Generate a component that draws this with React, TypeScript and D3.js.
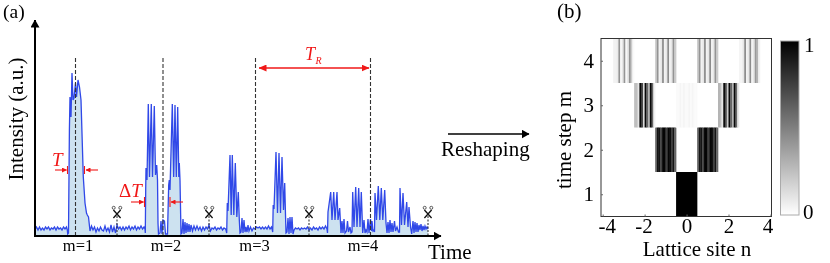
import React, { useEffect, useRef } from "react";
import * as d3 from "d3";

// waveform, [time, intensity] in a.u.
const quiet1 = [[0,6],[1.5,8],[3,5],[4.5,8],[6,5],[7.5,7],[9,5],[10.5,8],[12,6],[13.5,8],[15,5],[16.5,7],[18,6],[19.5,8],[21,5],[22.5,8],[24,6],[25.5,7],[27,5],[28.5,8],[30,6],[31.5,8]];
const pulse1 = [[32.3,5],[32.7,1],[33.5,2],[34.4,105],[35,138],[36,118],[37,162],[38,135],[39,137],[40.5,152],[41.5,138],[43,155],[44.5,148],[46,135],[48.3,58],[50,32],[51.5,22],[52.3,20],[53.5,18],[55,4]];
const quiet2 = [[56.5,9],[58,5],[59.5,8],[61,3],[62.5,7],[64,4],[65.5,8],[67,5],[68.5,4],[70,9],[71.5,4],[73,7],[74.5,3],[76,10],[77.5,3],[79,8],[80.5,2],[82,10],[83.5,6],[85,8],[86.5,5],[88,8],[89.5,5],[91,8],[92.5,6],[94,9],[95.5,5],[97,8],[98.5,6],[100,9],[101.5,5],[103,8],[104.5,6],[106,9],[107.5,6],[109,8]];
const pulse2a = [[110,6],[110.3,2],[110.7,45],[111,67],[112,55],[113.3,131],[114.5,58],[116.3,131],[117.5,58],[119.3,129],[120.5,60],[121.7,70],[122.5,55],[123,12],[123.5,1],[125,2]];
const gap2 = [[126,14],[127,1],[128,15],[129.5,14],[130.5,1],[132.5,1]];
const pulse2b = [[133.2,30],[133.7,50],[134.3,55],[135,45],[137.3,131],[138.7,58],[140,130],[141.3,58],[142.7,128],[143.8,58],[144.3,72],[145,55],[146,1]];
const quiet3 = [[147,2],[148,16],[149,1],[150,13],[151,2],[152,12],[153,3],[154,11],[155,3],[156,10],[157.5,4],[159,9],[160.5,5],[162,9],[163.5,5],[165,8],[166.5,4],[168,8],[169.5,5],[171,8],[172.5,6],[174,10],[175.5,4],[177,7],[178.5,6],[180,8],[181.5,5],[183,7],[184.5,6],[186,8],[187.5,5],[189,7],[190.5,6]];
const pulse3a = [[191,5],[191.7,2],[192.3,32],[193,24],[195,80],[196.2,20],[197.3,80],[198.8,20],[200.3,72],[201.8,18],[203.3,43],[204.3,15],[205,2]];
const quiet4 = [[206,3],[207,17],[208,2],[209,15],[210,3],[211,8],[212,3],[213,10],[214,4],[215.5,8],[217,4],[218.5,7],[220,6],[221.5,8],[223,7],[224.5,8],[226,6],[227.5,8],[229,6],[230.5,8],[232,6],[233.5,9],[235,6],[236.5,8]];
const pulse3b = [[237.3,5],[237.7,3],[238.2,30],[239,26],[241,83],[242.5,22],[244,82],[245.5,22],[247,78],[248.5,25],[249.7,52],[250.5,20],[251,2]];
const quiet5 = [[252,3],[253,17],[254,1],[255,18],[256,2],[257,18],[258,1],[259,5],[260.5,7],[262,6],[263.5,7],[265,5],[266.5,7],[268,6],[269.5,7],[271,6],[272.5,8],[274,5],[275.5,7],[277,5],[278.5,8],[280,6],[281.5,7],[283,5],[284.5,8],[286,6],[287.5,8],[289,6],[290.5,9]];
const pulse4a = [[292,6],[292.5,2],[293,23],[295.7,43],[297,15],[298.7,43],[300,15],[302,43],[303,15],[304.7,27],[306,2]];
const quiet6 = [[307,14],[308,2],[309,16],[310,2],[311.5,4],[312.5,14],[313.5,3],[315,8],[316,2]];
const pulse4b = [[317,3],[317.7,43],[319,8],[320.7,48],[322,8],[323.7,47],[325,8],[326.3,43],[327.7,2]];
const quiet7 = [[329,15],[330,2],[331,5],[332,3],[333,16],[334,2],[335.5,16],[336.5,4],[337,14],[338,4],[339,5]];
const pulse4c = [[339.5,3],[340,42],[341.5,15],[343.3,49],[344.8,15],[346.3,47],[347.8,15],[349.7,45],[351,12],[352,2]];
const quiet8 = [[353,13],[354,2],[355,15],[356,3],[357,12],[358,3],[359.5,14],[360.5,4],[362,8],[363.5,3]];
const pulse4d = [[364.5,3],[365,47],[366.5,10],[368,42],[369.5,10],[371.7,33],[373,8],[374,28],[375.5,8],[376.7,1]];
const quiet9 = [[378,14],[379,2],[380,13],[381,3],[382,12],[383,3],[384,10],[385,5],[386,11],[387,4],[388,9],[389,5],[390,9],[391,6],[392,8],[393,6]];

const waveform = [...quiet1, ...pulse1, ...quiet2, ...pulse2a, ...gap2, ...pulse2b, ...quiet3, ...pulse3a, ...quiet4, ...pulse3b, ...quiet5, ...pulse4a, ...quiet6, ...pulse4b, ...quiet7, ...pulse4c, ...quiet8, ...pulse4d, ...quiet9];

const guideTimes = [40.5, 128, 220.5, 335.5];
const pulseCentres = [43, 131, 219.5, 328];
const pulseLabels = ["m=1", "m=2", "m=3", "m=4"];
const cutTimes = [82, 174, 274, 393];

// intensity stripes inside one lattice site
const solid = [1];
const row2 = [0.55, 0.92, 0.92, 0.75, 0.98, 0.98, 0.75, 0.98, 0.98, 0.75, 0.92, 0.6];
const row3 = [0.25, 0.25, 0.1, 0.97, 0.8, 0.15, 0.97, 0.6, 0.3, 0.97, 0.6, 0.05];
const row3r = [0.3, 0.25, 0.1, 0.95, 0.7, 0.2, 0.97, 0.6, 0.3, 0.97, 0.6, 0.1];
const row3mid = [0.02, 0.02, 0.04, 0.02, 0.04, 0.02, 0.02, 0.04, 0.02, 0.04, 0.02, 0.02];
const row4edge = [0.05, 0.05, 0.08, 0.42, 0.03, 0.1, 0.42, 0.03, 0.1, 0.42, 0.2, 0.02];
const row4 = [0.2, 0.42, 0.05, 0.1, 0.45, 0.05, 0.1, 0.45, 0.05, 0.1, 0.42, 0.2];
const row4r = [0.04, 0.04, 0.1, 0.45, 0.05, 0.1, 0.45, 0.05, 0.1, 0.4, 0.3, 0.05];
const sites = [
  { n: 0, m: 1, v: solid },
  { n: -1, m: 2, v: row2 },
  { n: 1, m: 2, v: row2 },
  { n: -2, m: 3, v: row3 },
  { n: 0, m: 3, v: row3mid },
  { n: 2, m: 3, v: row3r },
  { n: -3, m: 4, v: row4edge },
  { n: -1, m: 4, v: row4 },
  { n: 1, m: 4, v: row4 },
  { n: 3, m: 4, v: row4r },
];
const nTicks = [-4, -2, 0, 2, 4];
const mTicks = [1, 2, 3, 4];
const barStops = [0, 0.25, 0.5, 0.75, 1];

const serif = "'Liberation Serif', serif";
const RED = "#f01818";

export default function App() {
  const ref = useRef<SVGSVGElement>(null);

  useEffect(() => {
    const svg = d3.select(ref.current);
    svg.selectAll("*").remove();
    svg.style("font-family", serif);

    const x = d3.scaleLinear().domain([0, 405]).range([35, 440]);
    const y = d3.scaleLinear().domain([0, 215]).range([235, 20]);
    const defs = svg.append("defs");

    function marker(id: string, color: string, w: number, h: number) {
      defs.append("marker").attr("id", id).attr("markerUnits", "userSpaceOnUse")
        .attr("markerWidth", w).attr("markerHeight", h).attr("refX", w - 0.5).attr("refY", h / 2)
        .attr("orient", "auto-start-reverse")
        .append("path").attr("d", `M0,0L${w},${h / 2}L0,${h}Z`).attr("fill", color);
    }
    marker("blackHead", "#000", 8, 9);
    marker("redHead", RED, 8, 7);
    marker("redSmall", RED, 5, 5);

    // waveform
    svg.append("path").datum(waveform as [number, number][])
      .attr("d", d3.area<[number, number]>().x((d) => x(d[0])).y0(y(0)).y1((d) => y(d[1])))
      .attr("fill", "#cde2f0");
    svg.append("path").datum(waveform as [number, number][])
      .attr("d", d3.line<[number, number]>().x((d) => x(d[0])).y((d) => y(d[1])))
      .attr("fill", "none").attr("stroke", "#3048e8").attr("stroke-width", 1.3);

    // period guides
    guideTimes.forEach((t, i) => {
      svg.append("line").attr("x1", x(t)).attr("x2", x(t)).attr("y1", 58).attr("y2", 235)
        .attr("stroke", "#333").attr("stroke-width", 1.1).attr("stroke-dasharray", "4,2");
      svg.append("text").attr("x", x(pulseCentres[i])).attr("y", 251)
        .attr("text-anchor", "middle").attr("font-size", 16.5).text(pulseLabels[i]);
    });

    // time and intensity axes
    svg.append("line").attr("x1", 35).attr("x2", 35).attr("y1", 236).attr("y2", 20)
      .attr("stroke", "#000").attr("stroke-width", 2).attr("marker-end", "url(#blackHead)");
    svg.append("line").attr("x1", 34).attr("x2", 441).attr("y1", 236).attr("y2", 236)
      .attr("stroke", "#000").attr("stroke-width", 2).attr("marker-end", "url(#blackHead)");

    // scissors
    cutTimes.forEach((t) => {
      const g = svg.append("g").attr("transform", `translate(${x(t)},0)`);
      g.append("line").attr("y1", 216).attr("y2", 235).attr("stroke", "#222").attr("stroke-dasharray", "2,1.5");
      g.append("path").attr("d", "M-3.6,210L3.6,218M3.6,210L-3.6,218").attr("stroke", "#111").attr("stroke-width", 1.3).attr("fill", "none");
      g.append("circle").attr("cx", -3.3).attr("cy", 207.8).attr("r", 1.5).attr("fill", "#fff").attr("stroke", "#333").attr("stroke-width", 0.8);
      g.append("circle").attr("cx", 3.3).attr("cy", 207.8).attr("r", 1.5).attr("fill", "#fff").attr("stroke", "#333").attr("stroke-width", 0.8);
    });

    // red annotations
    const redLine = (x1: number, x2: number, yy: number, w: number, head: string, both = false) => {
      const l = svg.append("line").attr("x1", x1).attr("x2", x2).attr("y1", yy).attr("y2", yy)
        .attr("stroke", RED).attr("stroke-width", w).attr("marker-end", `url(#${head})`);
      if (both) l.attr("marker-start", `url(#${head})`);
    };
    const bar = (xx: number, y1: number, y2: number) =>
      svg.append("line").attr("x1", xx).attr("x2", xx).attr("y1", y1).attr("y2", y2).attr("stroke", RED).attr("stroke-width", 1.1);
    redLine(259, 369, 68, 1.6, "redHead", true);
    svg.append("text").attr("x", 305).attr("y", 60).attr("font-size", 18).attr("font-style", "italic").attr("fill", RED).text("T");
    svg.append("text").attr("x", 315.5).attr("y", 64).attr("font-size", 10).attr("font-style", "italic").attr("fill", RED).text("R");
    svg.append("text").attr("x", 52).attr("y", 166).attr("font-size", 19).attr("font-style", "italic").attr("fill", RED).text("T");
    redLine(55, 66.5, 170, 1.1, "redSmall");
    redLine(98, 86, 170, 1.1, "redSmall");
    bar(67.5, 166, 174);
    bar(84.5, 166, 174);
    svg.append("text").attr("x", 119).attr("y", 197).attr("font-size", 19).attr("fill", RED)
      .html('\u0394<tspan font-style="italic">T</tspan>');
    redLine(131, 143.5, 202, 1.1, "redSmall");
    redLine(183, 171, 202, 1.1, "redSmall");
    bar(144.5, 197, 207);
    bar(170, 197, 207);

    // panel (a) text
    svg.append("text").attr("x", 3).attr("y", 18).attr("font-size", 19.5).text("(a)");
    svg.append("text").attr("transform", "translate(23,119) rotate(-90)").attr("text-anchor", "middle").attr("font-size", 21).text("Intensity (a.u.)");
    svg.append("text").attr("x", 428).attr("y", 259).attr("font-size", 21).text("Time");
    svg.append("line").attr("x1", 448).attr("x2", 529).attr("y1", 134).attr("y2", 134)
      .attr("stroke", "#000").attr("stroke-width", 1.6).attr("marker-end", "url(#blackHead)");
    svg.append("text").attr("x", 441).attr("y", 156).attr("font-size", 21).text("Reshaping");

    // panel (b)
    const nx = d3.scaleLinear().domain([-4.08, 4.05]).range([601, 771.5]);
    const my = d3.scaleLinear().domain([0.5, 4.5]).range([216.5, 38.5]);
    const shade = d3.scaleLinear<string>().domain([0, 1]).range(["#ffffff", "#000000"]);

    sites.forEach((s) => {
      const strip = d3.scaleBand<number>().domain(d3.range(s.v.length)).range([nx(s.n - 0.5), nx(s.n + 0.5)]);
      s.v.forEach((v, i) => {
        svg.append("rect").attr("x", strip(i) as number).attr("y", my(s.m + 0.5))
          .attr("width", strip.bandwidth() + 0.3).attr("height", my(s.m - 0.5) - my(s.m + 0.5))
          .attr("fill", shade(v));
      });
    });
    svg.append("rect").attr("x", 601).attr("y", 38.5).attr("width", 170.5).attr("height", 178)
      .attr("fill", "none").attr("stroke", "#333").attr("stroke-width", 1);

    const xAxis = svg.append("g").attr("transform", "translate(0,216.5)")
      .call(d3.axisBottom(nx).tickValues(nTicks).tickSize(-2).tickPadding(5).tickFormat((d) => String(d)));
    const yAxis = svg.append("g").attr("transform", "translate(601,0)")
      .call(d3.axisLeft(my).tickValues(mTicks).tickSize(-2).tickPadding(7).tickFormat((d) => String(d)));
    [xAxis, yAxis].forEach((a) => {
      a.select(".domain").remove();
      a.selectAll("line").attr("stroke", "#666");
      a.selectAll("text").attr("font-family", serif).attr("font-size", 21).attr("fill", "#000");
    });
    xAxis.selectAll("text").attr("y", 2).attr("dx", (d) => (d === -4 ? 4 : d === 4 ? -3 : d === -2 ? -1 : 0));
    svg.append("text").attr("x", 557).attr("y", 18).attr("font-size", 21).text("(b)");
    svg.append("text").attr("transform", "translate(571,140) rotate(-90)").attr("text-anchor", "middle").attr("font-size", 21).text("time step m");
    svg.append("text").attr("x", 697).attr("y", 256).attr("text-anchor", "middle").attr("font-size", 21).text("Lattice site n");

    // colour bar
    const grad = defs.append("linearGradient").attr("id", "grayBar").attr("x1", 0).attr("x2", 0).attr("y1", 0).attr("y2", 1);
    barStops.forEach((p) => grad.append("stop").attr("offset", p).attr("stop-color", shade(1 - p)));
    svg.append("rect").attr("x", 780.5).attr("y", 41).attr("width", 18.5).attr("height", 174)
      .attr("fill", "url(#grayBar)").attr("stroke", "#aaa").attr("stroke-width", 1);
    svg.append("text").attr("x", 804).attr("y", 52).attr("font-size", 21).text("1");
    svg.append("text").attr("x", 803).attr("y", 219).attr("font-size", 21).text("0");
  }, []);

  return <svg ref={ref} width={830} height={263} style={{ position: "absolute", left: 0, top: 0, filter: "blur(0.35px)" }}></svg>;
}
